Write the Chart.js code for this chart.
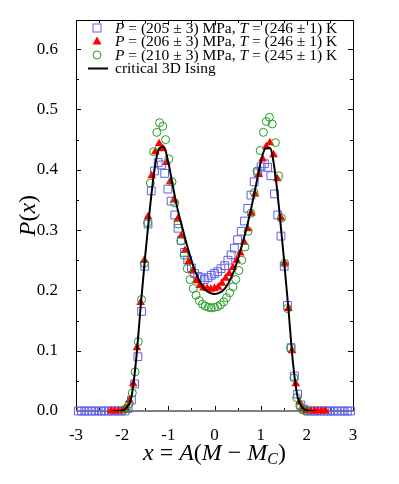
<!DOCTYPE html>
<html>
<head>
<meta charset="utf-8">
<script src="https://cdn.jsdelivr.net/npm/chart.js@4.4.1/dist/chart.umd.min.js"></script>
<style>
  html, body { margin: 0; padding: 0; background: #fff; }
  #wrap { width: 399px; height: 484px; }
</style>
</head>
<body>
<div id="wrap"><canvas id="pdist"></canvas></div>
<script>
// values
const xTicks = [-3, -2, -1, 0, 1, 2, 3];
const yTicks = [0, 0.1, 0.2, 0.3, 0.4, 0.5, 0.6];

// P = 205 MPa (open squares)
const sqX = [-2.95,-2.88,-2.81,-2.74,-2.66,-2.59,-2.52,-2.45,-2.38,-2.30,-2.23,-2.16,-2.09,-2.02,-1.94,-1.87,-1.80,-1.73,-1.66,-1.58,-1.51,-1.44,-1.37,-1.30,-1.22,-1.15,-1.08,-1.01,-0.94,-0.86,-0.79,-0.72,-0.65,-0.58,-0.50,-0.43,-0.36,-0.29,-0.22,-0.14,-0.07,
  0.00,0.07,0.14,0.22,0.29,0.36,0.43,0.50,0.58,0.65,0.72,0.79,0.86,0.94,1.01,1.08,1.15,1.22,1.30,1.37,1.44,1.51,1.58,1.66,1.73,1.80,1.87,1.94,2.02,2.09,2.16,2.23,2.30,2.38,2.45,2.52,2.59,2.66,2.74,2.81,2.88,2.95];
const sqY = [0,0,0,0,0,0,0,0,0,0,0,0,0,0,0,0.004,0.018,0.045,0.090,0.165,0.240,0.310,0.365,0.398,0.412,0.408,0.394,0.368,0.348,0.325,0.303,0.283,0.263,0.250,0.237,0.228,0.223,0.221,0.218,0.221,0.225,
  0.228,0.231,0.236,0.241,0.250,0.259,0.270,0.284,0.298,0.315,0.336,0.358,0.380,0.395,0.405,0.410,0.404,0.390,0.360,0.325,0.290,0.240,0.175,0.105,0.058,0.028,0.010,0.003,0,0,0,0,0,0,0,0,0,0,0,0,0,0];

// P = 206 MPa (filled triangles)
const triX = [-2.24,-2.16,-2.08,-2.00,-1.92,-1.84,-1.76,-1.68,-1.60,-1.52,-1.44,-1.36,-1.28,-1.20,-1.12,-1.04,-0.96,-0.88,-0.80,-0.72,-0.64,-0.56,-0.48,-0.40,-0.32,-0.24,-0.16,-0.08,
  0.00,0.08,0.16,0.24,0.32,0.40,0.48,0.56,0.64,0.72,0.80,0.88,0.96,1.04,1.12,1.20,1.28,1.36,1.44,1.52,1.60,1.68,1.76,1.84,1.92,2.00,2.08,2.16,2.24,2.32,2.40];
const triY = [0,0,0,0.001,0.005,0.018,0.045,0.105,0.180,0.250,0.322,0.390,0.430,0.443,0.435,0.412,0.380,0.350,0.318,0.290,0.266,0.248,0.232,0.216,0.208,0.204,0.203,0.202,
  0.203,0.205,0.212,0.220,0.228,0.238,0.250,0.262,0.280,0.302,0.328,0.360,0.392,0.418,0.438,0.445,0.425,0.385,0.320,0.245,0.170,0.100,0.045,0.015,0.004,0.001,0,0,0,0,0];

// P = 210 MPa (open circles)
const circX = [-1.98,-1.91,-1.85,-1.78,-1.72,-1.65,-1.58,-1.52,-1.45,-1.39,-1.32,-1.25,-1.19,-1.12,-1.06,-0.99,-0.92,-0.86,-0.79,-0.73,-0.66,-0.59,-0.53,-0.46,-0.40,-0.33,-0.26,-0.20,-0.13,-0.07,
  0.00,0.07,0.13,0.20,0.26,0.33,0.40,0.46,0.53,0.59,0.66,0.73,0.79,0.86,0.92,0.99,1.06,1.12,1.19,1.25,1.32,1.39,1.45,1.52,1.58,1.65,1.72,1.78,1.85,1.91,1.98];
const circY = [0.001,0.004,0.012,0.030,0.065,0.115,0.185,0.245,0.312,0.378,0.430,0.462,0.478,0.472,0.450,0.418,0.380,0.345,0.310,0.282,0.258,0.236,0.218,0.203,0.192,0.183,0.177,0.174,0.172,0.171,
  0.172,0.173,0.176,0.181,0.188,0.196,0.206,0.218,0.233,0.250,0.272,0.298,0.328,0.362,0.398,0.432,0.462,0.480,0.487,0.476,0.445,0.390,0.320,0.245,0.170,0.105,0.055,0.022,0.008,0.002,0];

// critical 3D Ising curve
const isingX = [-2.2,-2.1,-2.0,-1.9,-1.8,-1.7,-1.6,-1.5,-1.4,-1.3,-1.2,-1.1,-1.0,-0.9,-0.8,-0.7,-0.6,-0.5,-0.4,-0.3,-0.2,-0.1,
  0,0.1,0.2,0.3,0.4,0.5,0.6,0.7,0.8,0.9,1.0,1.1,1.2,1.3,1.4,1.5,1.6,1.7,1.8,1.9,2.0,2.1,2.2];
const isingY = [0,0,0.001,0.006,0.023,0.083,0.172,0.258,0.335,0.400,0.435,0.438,0.412,0.372,0.335,0.305,0.276,0.250,0.228,0.212,0.201,0.196,
  0.194,0.196,0.201,0.212,0.228,0.250,0.276,0.305,0.338,0.375,0.412,0.435,0.436,0.402,0.335,0.255,0.170,0.080,0.023,0.006,0.001,0,0];

const legendText = [
  '*P* = (205 ± 3) MPa, *T* = (246 ± 1) K',
  '*P* = (206 ± 3) MPa, *T* = (246 ± 1) K',
  '*P* = (210 ± 3) MPa, *T* = (245 ± 1) K',
  'critical 3D Ising'
];

const blue = 'rgb(95,95,235)';
const red = '#ff0000';
const green = '#239b23';
const serif = '"Liberation Serif", "DejaVu Serif", serif';

const pts = (xs, ys) => xs.map((x, i) => ({ x: x, y: ys[i] }));

// draws text where *...* parts are italic, returns width
function richText(ctx, str, x, y, size, measureOnly) {
  let w = 0;
  str.split('*').forEach((p, i) => {
    ctx.font = (i % 2 ? 'italic ' : '') + size + 'px ' + serif;
    if (!measureOnly) ctx.fillText(p, x + w, y);
    w += ctx.measureText(p).width;
  });
  return w;
}

const decor = {
  id: 'decor',
  beforeDatasetsDraw(chart) {
    const { ctx, chartArea: a, scales: { x, y } } = chart;
    ctx.save();
    ctx.strokeStyle = '#000';
    ctx.lineWidth = 1;
    // inward ticks on all four sides
    for (let v = -3; v <= 3.001; v += 0.5) {
      const px = Math.round(x.getPixelForValue(v)) + 0.5;
      const len = Number.isInteger(v) ? 5 : 3;
      ctx.beginPath();
      ctx.moveTo(px, a.bottom); ctx.lineTo(px, a.bottom - len);
      ctx.moveTo(px, a.top); ctx.lineTo(px, a.top + len);
      ctx.stroke();
    }
    for (let k = 0; k <= 12; k++) {
      const py = Math.round(y.getPixelForValue(k * 0.05)) + 0.5;
      const len = k % 2 ? 3 : 5;
      ctx.beginPath();
      ctx.moveTo(a.left, py); ctx.lineTo(a.left + len, py);
      ctx.moveTo(a.right, py); ctx.lineTo(a.right - len, py);
      ctx.stroke();
    }
    // frame
    ctx.beginPath();
    ctx.moveTo(Math.round(a.left) + 0.5, a.bottom);
    ctx.lineTo(Math.round(a.left) + 0.5, Math.round(a.top) + 0.5);
    ctx.lineTo(Math.round(a.right) + 0.5, Math.round(a.top) + 0.5);
    ctx.lineTo(Math.round(a.right) + 0.5, a.bottom);
    ctx.stroke();
    ctx.strokeStyle = '#808080';
    ctx.lineWidth = 2;
    ctx.beginPath();
    ctx.moveTo(a.left, Math.round(a.bottom));
    ctx.lineTo(a.right + 0.5, Math.round(a.bottom));
    ctx.stroke();
    ctx.restore();
  },
  afterDraw(chart) {
    const { ctx, chartArea: a } = chart;
    ctx.save();
    ctx.fillStyle = '#000';
    ctx.textBaseline = 'alphabetic';

    // legend
    const rowY = [28, 41.5, 55, 68.5];
    const mx = 97;
    ctx.lineWidth = 1;
    ctx.strokeStyle = blue;
    ctx.strokeRect(mx - 4, rowY[0] - 4, 8, 8);
    ctx.fillStyle = red;
    ctx.beginPath();
    ctx.moveTo(mx, rowY[1] - 5);
    ctx.lineTo(mx + 4.5, rowY[1] + 3);
    ctx.lineTo(mx - 4.5, rowY[1] + 3);
    ctx.closePath();
    ctx.fill();
    ctx.strokeStyle = green;
    ctx.beginPath();
    ctx.arc(mx, rowY[2], 4, 0, Math.PI * 2);
    ctx.stroke();
    ctx.strokeStyle = '#000';
    ctx.lineWidth = 2;
    ctx.beginPath();
    ctx.moveTo(88, rowY[3]); ctx.lineTo(108, rowY[3]);
    ctx.stroke();
    ctx.fillStyle = '#000';
    legendText.forEach((t, i) => richText(ctx, t, 115, rowY[i] + 4.5, 15.5));

    // x axis title: x = A(M - M_C)
    const size = 24;
    const parts = [['x', 1], [' = ', 0], ['A', 1], ['(', 0], ['M', 1], [' \u2212 ', 0], ['M', 1]];
    let w = 0;
    parts.forEach(p => { ctx.font = (p[1] ? 'italic ' : '') + size + 'px ' + serif; w += ctx.measureText(p[0]).width; });
    ctx.font = 'italic 16px ' + serif; const wc = ctx.measureText('C').width;
    ctx.font = size + 'px ' + serif; const wp = ctx.measureText(')').width;
    w += wc + wp;
    let cx = (a.left + a.right) / 2 - w / 2;
    const by = 460;
    parts.forEach(p => {
      ctx.font = (p[1] ? 'italic ' : '') + size + 'px ' + serif;
      ctx.fillText(p[0], cx, by);
      cx += ctx.measureText(p[0]).width;
    });
    ctx.font = 'italic 16px ' + serif;
    ctx.fillText('C', cx, by + 4);
    cx += wc;
    ctx.font = size + 'px ' + serif;
    ctx.fillText(')', cx, by);

    // y axis title: P(x)
    ctx.translate(35, (a.top + a.bottom) / 2);
    ctx.rotate(-Math.PI / 2);
    const yw = richText(ctx, '*P*(*x*)', 0, 0, size, true);
    richText(ctx, '*P*(*x*)', -yw / 2, 0, size);
    ctx.restore();
  }
};

new Chart(document.getElementById('pdist'), {
  type: 'scatter',
  data: {
    datasets: [
      {
        label: 'critical 3D Ising',
        data: pts(isingX, isingY),
        showLine: true,
        borderColor: '#000',
        borderWidth: 2,
        pointRadius: 0,
        cubicInterpolationMode: 'monotone',
        order: 0
      },
      {
        label: 'P = (210 ± 3) MPa, T = (245 ± 1) K',
        data: pts(circX, circY),
        pointStyle: 'circle',
        pointRadius: 4,
        borderWidth: 1,
        borderColor: green,
        backgroundColor: 'rgba(0,0,0,0)',
        clip: 8,
        order: 1
      },
      {
        label: 'P = (206 ± 3) MPa, T = (246 ± 1) K',
        data: pts(triX, triY),
        pointStyle: 'triangle',
        pointRadius: 5,
        borderWidth: 0,
        borderColor: red,
        backgroundColor: red,
        clip: 8,
        order: 2
      },
      {
        label: 'P = (205 ± 3) MPa, T = (246 ± 1) K',
        data: pts(sqX, sqY),
        pointStyle: 'rect',
        pointRadius: 5.5,
        borderWidth: 1,
        borderColor: blue,
        backgroundColor: 'rgba(0,0,0,0)',
        clip: 8,
        order: 3
      }
    ]
  },
  options: {
    responsive: true,
    maintainAspectRatio: false,
    animation: false,
    devicePixelRatio: 1,
    layout: { padding: { top: 14, right: 46, left: 0, bottom: 0 } },
    plugins: { legend: { display: false }, tooltip: { enabled: false } },
    scales: {
      x: {
        type: 'linear',
        min: -3,
        max: 3,
        grid: { display: false },
        border: { display: false },
        afterBuildTicks: s => { s.ticks = xTicks.map(v => ({ value: v })); },
        afterFit: s => { s.height = 73; },
        ticks: {
          color: '#000',
          padding: 6,
          maxRotation: 0,
          font: { family: serif, size: 17 },
          callback: v => String(v)
        }
      },
      y: {
        min: 0,
        max: 0.648,
        grid: { display: false },
        border: { display: false },
        afterBuildTicks: s => { s.ticks = yTicks.map(v => ({ value: v })); },
        afterFit: s => { s.width = 76; },
        ticks: {
          color: '#000',
          padding: 10,
          font: { family: serif, size: 17 },
          callback: v => v.toFixed(1)
        }
      }
    }
  },
  plugins: [decor]
});
</script>
</body>
</html>
